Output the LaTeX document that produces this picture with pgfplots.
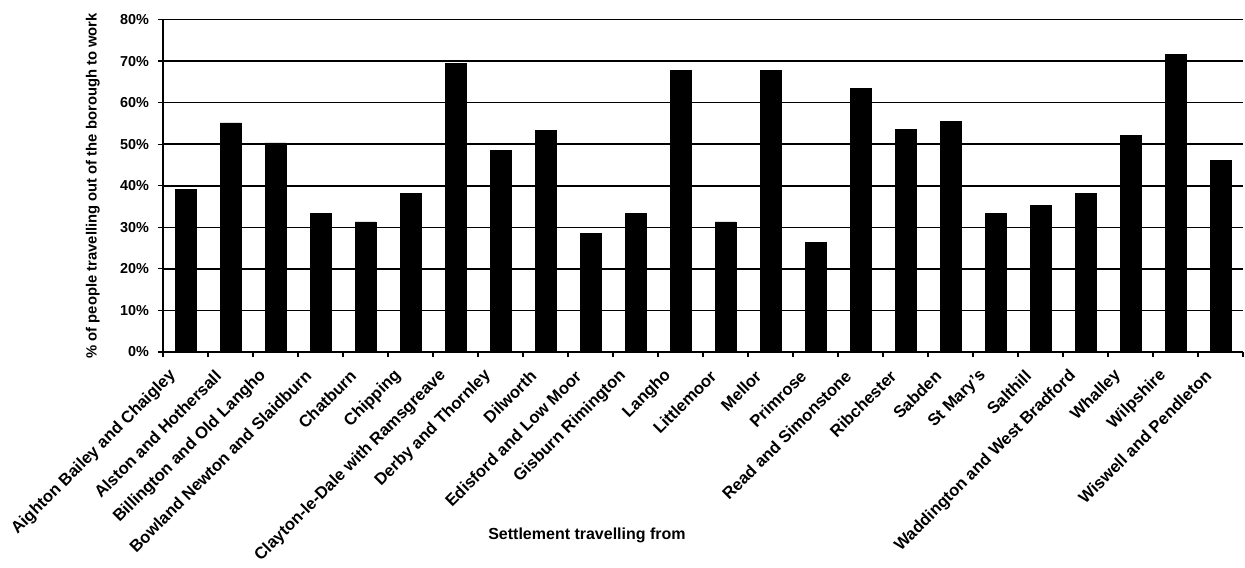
\documentclass[border=0pt]{standalone}
\usepackage{pgfplots}
\pgfplotsset{compat=1.18}
\usepackage{fontspec}
\setmainfont{Liberation Sans}
\begin{document}
\begin{tikzpicture}
\useasboundingbox (-81.5pt,-107.5pt) rectangle (541pt,176pt);
\begin{axis}[
  scale only axis,
  width=540pt, height=166.25pt,
  at={(0,0)}, anchor=south west,
  xmin=-0.5, xmax=23.5,
  ymin=0, ymax=80,
  axis x line*=bottom, axis y line*=left,
  axis line style={line width=0.8pt, -},
  ybar, bar width=10.5pt,
  ytick={0,10,...,80},
  yticklabels={0\%,10\%,20\%,30\%,40\%,50\%,60\%,70\%,80\%},
  yticklabel style={font=\bfseries\fontsize{7.2}{8}\selectfont, xshift=-1pt},
  ymajorgrids, major grid style={line width=0.8pt, black},
  xtick={0,...,23},
  minor xtick={-0.5,0.5,...,23.5},
  major x tick style={draw=none},
  minor tick length=2.5pt,
  major tick length=2.5pt,
  tick align=outside,
  tick style={line width=0.6pt, black},
  xticklabels={Aighton Bailey and Chaigley, Alston and Hothersall, Billington and Old Langho, Bowland Newton and Slaidburn, Chatburn, Chipping, Clayton-le-Dale with Ramsgreave, Derby and Thornley, Dilworth, Edisford and Low Moor, Gisburn Rimington, Langho, Littlemoor, Mellor, Primrose, Read and Simonstone, Ribchester, Sabden, St Mary's, Salthill, Waddington and West Bradford, Whalley, Wilpshire, Wiswell and Pendleton},
  xticklabel style={font=\bfseries\fontsize{8.3}{9}\selectfont, xshift=-6pt, yshift=-8pt, rotate=45, anchor=east, inner sep=0pt},
  xlabel={Settlement travelling from},
  xlabel style={font=\bfseries\fontsize{8}{9}\selectfont, at={(axis description cs:0.3926,-0.553)}, anchor=center},
  ylabel={\% of people travelling out of the borough to work},
  ylabel style={font=\bfseries\fontsize{7.4}{8}\selectfont, at={(axis description cs:-0.065,0.5)}, anchor=center},
]
\addplot[fill=black, draw=black, bar shift=0pt] coordinates {
(0,39.2) (1,55.1) (2,50.3) (3,33.4) (4,31.3) (5,38.2) (6,69.5) (7,48.6)
(8,53.4) (9,28.6) (10,33.4) (11,67.7) (12,31.3) (13,67.7) (14,26.4) (15,63.5)
(16,53.6) (17,55.4) (18,33.4) (19,35.2) (20,38.1) (21,52.2) (22,71.6) (23,46.1)
};
\end{axis}
\end{tikzpicture}
\end{document}
